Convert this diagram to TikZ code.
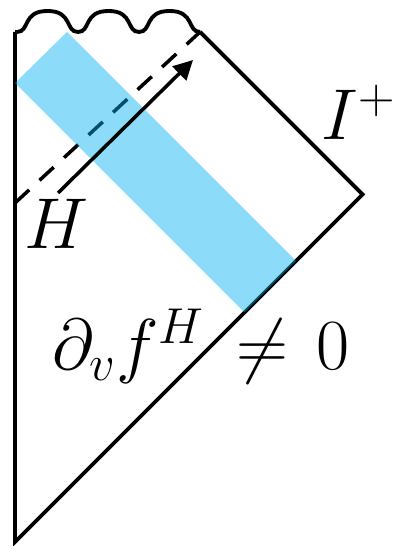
\documentclass[tikz,border=0pt]{standalone}
\usepackage{fix-cm}
\usetikzlibrary{arrows.meta}
\definecolor{bandblue}{RGB}{0,176,240}
\newcommand{\bigmath}{\fontsize{41}{48}\selectfont}

\begin{document}
\begin{tikzpicture}[
  edge/.style={line width=2.2pt},
  ray/.style={line width=2pt},
  lab/.style={font=\bigmath, inner sep=0pt}
]
  \useasboundingbox (-0.3,-0.08) rectangle (7.64,10.84);
  \coordinate (bot) at (0,0);
  \coordinate (rt) at (6.95,6.95);
  \coordinate (tr) at (3.7,10.2);
  \coordinate (tl) at (0,10.2);
  % singularity
  \draw[edge] (tl) -- (0.04,10.2)
    \foreach \x in {0.04,1.26,2.48} {
      .. controls (\x+0.26,10.2) and (\x+0.1,10.62) .. (\x+0.61,10.62)
      .. controls (\x+1.12,10.62) and (\x+0.96,10.2) .. (\x+1.22,10.2)
    } -- (tr);
  \draw[edge] (tl) -- (bot) -- (rt) -- (tr);
  % horizon
  \coordinate (h0) at (0,6.78);
  \draw[ray, dash pattern=on 11pt off 8pt] (h0) -- (tr);
  % pulse
  \fill[bandblue, opacity=0.45] (0,9.18) -- (1.04,10.2) -- (5.62,5.62) -- (4.59,4.59) -- cycle;
  \coordinate (a0) at (0.86,6.98);
  \coordinate (a1) at (3.56,9.64);
  \draw[ray, -{Triangle[length=11pt, width=11pt]}] (a0) -- (a1);
  % labels
  \node[lab] (hlab) at (0.84,6.36) {$H$};
  \node[lab, anchor=east] (scri) at (7.62,8.6) {$I^+$};
  \node[lab, anchor=base west] (cond) at (0.74,3.44) {$\partial_v f^H \,\neq\mkern2mu 0$};
\end{tikzpicture}
\end{document}
